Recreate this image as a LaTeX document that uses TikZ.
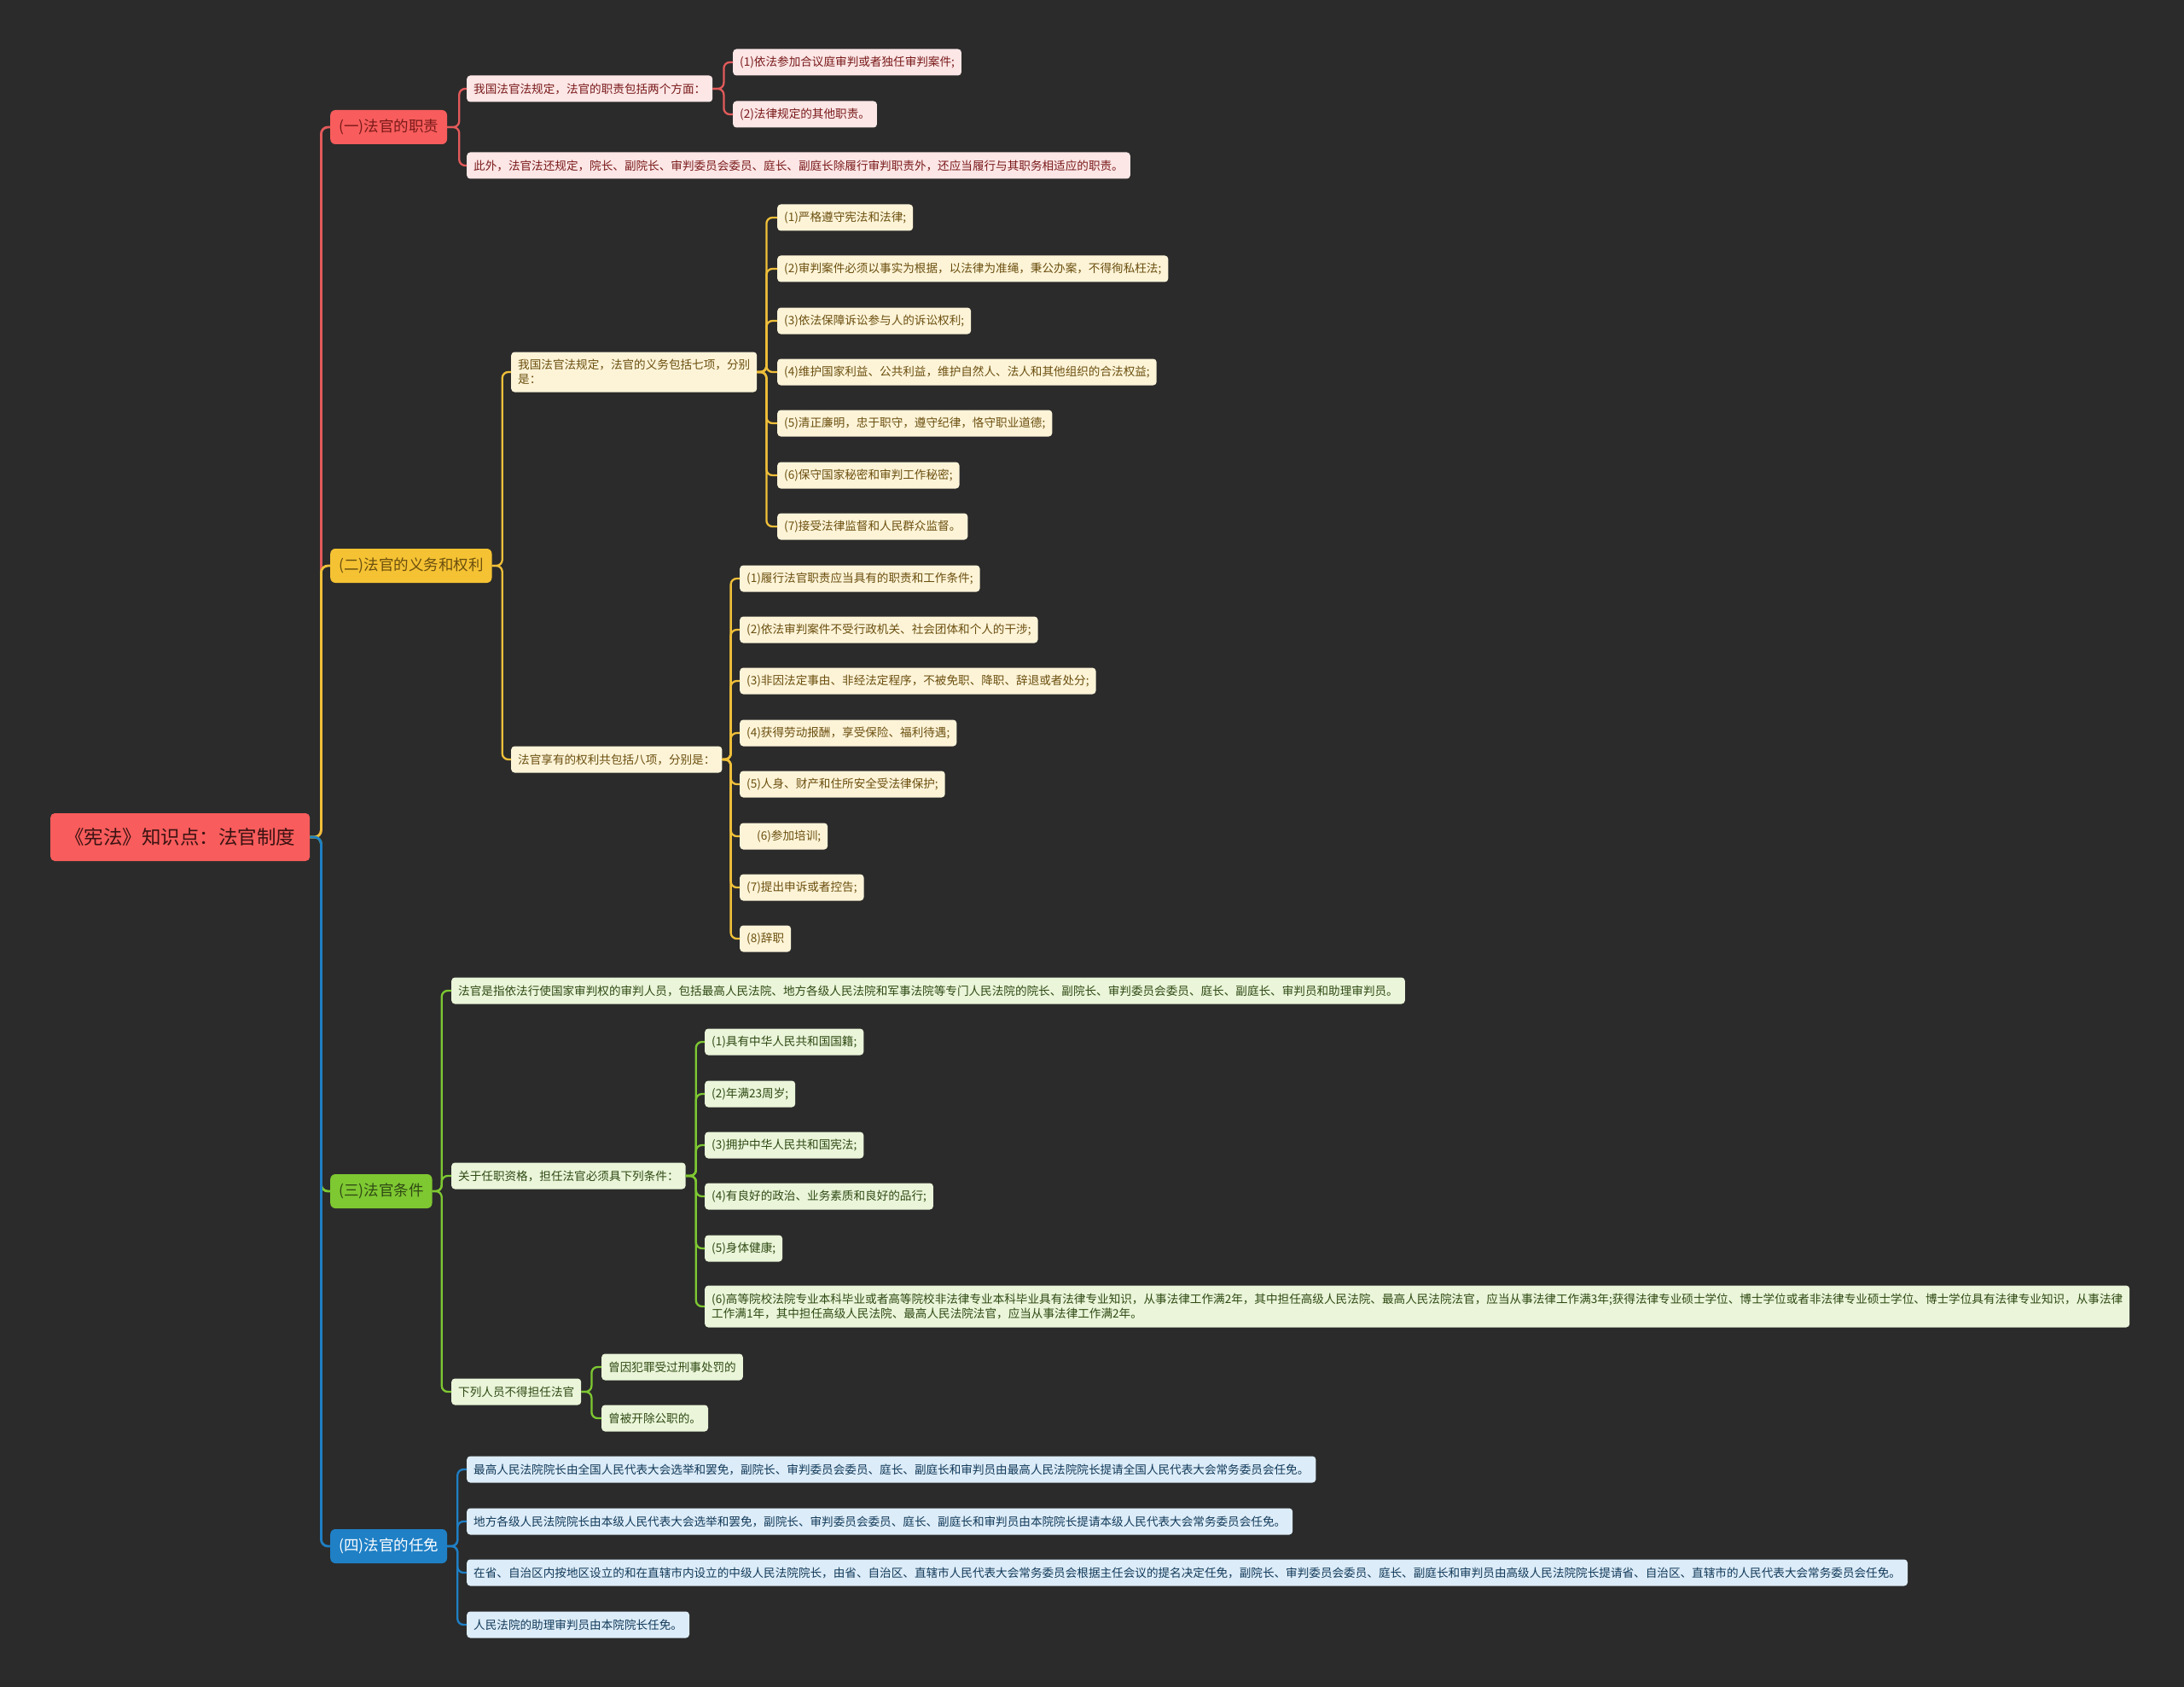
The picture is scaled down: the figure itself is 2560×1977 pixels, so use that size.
\documentclass[tikz,border=0pt]{standalone}
\usepackage{fontspec}
\setmainfont{Noto Sans CJK SC}
\definecolor{bg}{HTML}{2B2B2B}
\definecolor{rmain}{HTML}{F85C5C}
\definecolor{rline}{HTML}{E35A5A}
\definecolor{rfill}{HTML}{FCE6E6}
\definecolor{rtext}{HTML}{7A1A1A}
\definecolor{ymain}{HTML}{F5C233}
\definecolor{yline}{HTML}{F0C03A}
\definecolor{yfill}{HTML}{FDF4D8}
\definecolor{ytext}{HTML}{6B4F0F}
\definecolor{gmain}{HTML}{7EC832}
\definecolor{gline}{HTML}{7EC832}
\definecolor{gfill}{HTML}{EAF5D9}
\definecolor{gtext}{HTML}{2F4A14}
\definecolor{bmain}{HTML}{1F80C6}
\definecolor{bline}{HTML}{1F7FC4}
\definecolor{bfill}{HTML}{DCECF8}
\definecolor{btext}{HTML}{123A5A}
\definecolor{roottext}{HTML}{3A1212}
\tikzset{
  leafbase/.style={rounded corners=4pt, anchor=west, inner ysep=0pt, inner xsep=8pt,
    minimum height=31pt, align=left, font=\fontsize{13.6}{17}\selectfont},
  rleaf/.style={leafbase, fill=rfill, text=rtext},
  yleaf/.style={leafbase, fill=yfill, text=ytext},
  gleaf/.style={leafbase, fill=gfill, text=gtext},
  bleaf/.style={leafbase, fill=bfill, text=btext},
  lone/.style={rounded corners=6pt, anchor=west, inner ysep=0pt, inner xsep=10pt,
    minimum height=40pt, font=\fontsize{17.5}{21}\selectfont},
  rootbox/.style={rounded corners=5pt, anchor=west, inner ysep=0pt, inner xsep=17pt,
    minimum height=56pt, fill=rmain, text=roottext, font=\fontsize{22.5}{26}\selectfont},
  lnk/.style={line width=2.3pt, rounded corners=7pt},
  mainlnk/.style={line width=2.8pt, rounded corners=8pt}
}
\newcommand\jointo[4]{\draw[lnk,#1] (#2.east) -- ++(#4,0) |- (#3.west);}
\begin{document}
\begin{tikzpicture}[x=1pt,y=-1pt]
\fill[bg] (0,0) rectangle (2560,1977);
\useasboundingbox (0,0) rectangle (2560,1977);

% root
\node[rootbox] (root) at (59,981) {《宪法》知识点：法官制度};

% level 1
\node[lone, fill=rmain, text=rtext] (a) at (387,149) {(一)法官的职责};
\node[lone, fill=ymain, text=ytext] (b) at (387,663) {(二)法官的义务和权利};
\node[lone, fill=gmain, text=gtext] (c) at (387,1396) {(三)法官条件};
\node[lone, fill=bmain, text=white] (d) at (387,1812) {(四)法官的任免};

% branch one
\node[rleaf] (a1) at (547,104) {我国法官法规定，法官的职责包括两个方面：};
\node[rleaf] (a2) at (547,194) {此外，法官法还规定，院长、副院长、审判委员会委员、庭长、副庭长除履行审判职责外，还应当履行与其职务相适应的职责。};
\node[rleaf] (a11) at (859,73) {(1)依法参加合议庭审判或者独任审判案件;};
\node[rleaf] (a12) at (859,134) {(2)法律规定的其他职责。};

% branch two
\node[yleaf, minimum height=47pt] (b1) at (599,436) {我国法官法规定，法官的义务包括七项，分别\\是：};
\node[yleaf] (b2) at (599,890) {法官享有的权利共包括八项，分别是：};

\node[yleaf] (b11) at (911,255) {(1)严格遵守宪法和法律;};
\node[yleaf] (b12) at (911,315) {(2)审判案件必须以事实为根据，以法律为准绳，秉公办案，不得徇私枉法;};
\node[yleaf] (b13) at (911,376) {(3)依法保障诉讼参与人的诉讼权利;};
\node[yleaf] (b14) at (911,436) {(4)维护国家利益、公共利益，维护自然人、法人和其他组织的合法权益;};
\node[yleaf] (b15) at (911,496) {(5)清正廉明，忠于职守，遵守纪律，恪守职业道德;};
\node[yleaf] (b16) at (911,557) {(6)保守国家秘密和审判工作秘密;};
\node[yleaf] (b17) at (911,617) {(7)接受法律监督和人民群众监督。};

\node[yleaf] (b21) at (867,678) {(1)履行法官职责应当具有的职责和工作条件;};
\node[yleaf] (b22) at (867,738) {(2)依法审判案件不受行政机关、社会团体和个人的干涉;};
\node[yleaf] (b23) at (867,798) {(3)非因法定事由、非经法定程序，不被免职、降职、辞退或者处分;};
\node[yleaf] (b24) at (867,859) {(4)获得劳动报酬，享受保险、福利待遇;};
\node[yleaf] (b25) at (867,919) {(5)人身、财产和住所安全受法律保护;};
\node[yleaf] (b26) at (867,980) {\hspace*{12pt}(6)参加培训;};
\node[yleaf] (b27) at (867,1040) {(7)提出申诉或者控告;};
\node[yleaf] (b28) at (867,1100) {(8)辞职};

% branch three
\node[gleaf] (c1) at (529,1161) {法官是指依法行使国家审判权的审判人员，包括最高人民法院、地方各级人民法院和军事法院等专门人民法院的院长、副院长、审判委员会委员、庭长、副庭长、审判员和助理审判员。};
\node[gleaf] (c2) at (529,1378) {关于任职资格，担任法官必须具下列条件：};
\node[gleaf] (c3) at (529,1631) {下列人员不得担任法官};

\node[gleaf] (c21) at (826,1221) {(1)具有中华人民共和国国籍;};
\node[gleaf] (c22) at (826,1282) {(2)年满23周岁;};
\node[gleaf] (c23) at (826,1342) {(3)拥护中华人民共和国宪法;};
\node[gleaf] (c24) at (826,1402) {(4)有良好的政治、业务素质和良好的品行;};
\node[gleaf] (c25) at (826,1463) {(5)身体健康;};
\node[gleaf, minimum height=49pt] (c26) at (826,1531) {(6)高等院校法院专业本科毕业或者高等院校非法律专业本科毕业具有法律专业知识，从事法律工作满2年，其中担任高级人民法院、最高人民法院法官，应当从事法律工作满3年;获得法律专业硕士学位、博士学位或者非法律专业硕士学位、博士学位具有法律专业知识，从事法律\\工作满1年，其中担任高级人民法院、最高人民法院法官，应当从事法律工作满2年。};

\node[gleaf] (c31) at (705,1602) {曾因犯罪受过刑事处罚的};
\node[gleaf] (c32) at (705,1662) {曾被开除公职的。};

% branch four
\node[bleaf] (d1) at (547,1722) {最高人民法院院长由全国人民代表大会选举和罢免，副院长、审判委员会委员、庭长、副庭长和审判员由最高人民法院院长提请全国人民代表大会常务委员会任免。};
\node[bleaf] (d2) at (547,1783) {地方各级人民法院院长由本级人民代表大会选举和罢免，副院长、审判委员会委员、庭长、副庭长和审判员由本院院长提请本级人民代表大会常务委员会任免。};
\node[bleaf] (d3) at (547,1843) {在省、自治区内按地区设立的和在直辖市内设立的中级人民法院院长，由省、自治区、直辖市人民代表大会常务委员会根据主任会议的提名决定任免，副院长、审判委员会委员、庭长、副庭长和审判员由高级人民法院院长提请省、自治区、直辖市的人民代表大会常务委员会任免。};
\node[bleaf] (d4) at (547,1904) {人民法院的助理审判员由本院院长任免。};

% connectors: root to level 1
\draw[mainlnk, rline] (root.east) -- ++(13,0) |- (a.west);
\draw[mainlnk, yline] (root.east) -- ++(13,0) |- (b.west);
\draw[mainlnk, gline] (root.east) -- ++(13,0) |- (c.west);
\draw[mainlnk, bline] (root.east) -- ++(13,0) |- (d.west);

% branch one connectors
\jointo{rline}{a}{a1}{14}
\jointo{rline}{a}{a2}{14}
\jointo{rline}{a1}{a11}{13}
\jointo{rline}{a1}{a12}{13}

% branch two connectors
\jointo{yline}{b}{b1}{12}
\jointo{yline}{b}{b2}{12}
\foreach \k in {1,...,7} {\jointo{yline}{b1}{b1\k}{11}}
\foreach \k in {1,...,8} {\jointo{yline}{b2}{b2\k}{10}}

% branch three connectors
\jointo{gline}{c}{c1}{11}
\jointo{gline}{c}{c2}{11}
\jointo{gline}{c}{c3}{11}
\foreach \k in {1,...,6} {\jointo{gline}{c2}{c2\k}{12}}
\jointo{gline}{c3}{c31}{12}
\jointo{gline}{c3}{c32}{12}

% branch four connectors
\foreach \k in {1,...,4} {\jointo{bline}{d}{d\k}{12}}
\end{tikzpicture}
\end{document}
